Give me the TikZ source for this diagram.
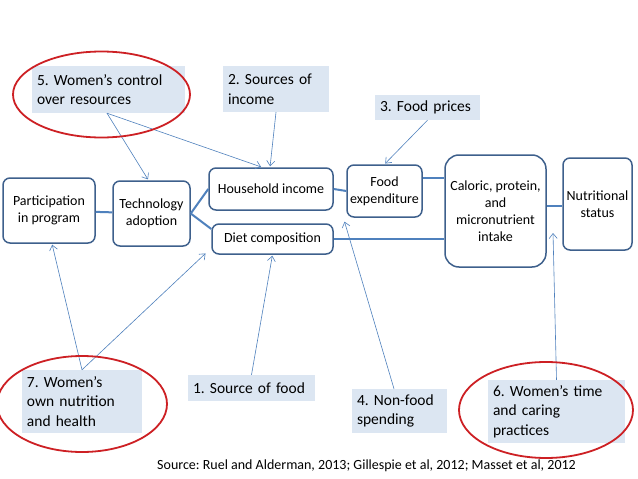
\documentclass[tikz,border=0pt]{standalone}
\usepackage{fontspec}
\setmainfont{Carlito}
\usepackage{tikz}
\usetikzlibrary{arrows.meta}
\frenchspacing

\definecolor{boxline}{RGB}{62,96,140}
\definecolor{linkblue}{RGB}{79,129,189}
\definecolor{calloutfill}{RGB}{220,230,242}
\definecolor{ringred}{RGB}{205,32,36}

\begin{document}
\begin{tikzpicture}[
    x=1pt, y=-1pt,
    >={Straight Barb[length=5pt, width=8pt]},
    stage/.style={rectangle, rounded corners=7pt, draw=boxline, line width=1.5pt, fill=white,
                  align=center, inner sep=0.5pt, font=\fontsize{14}{17}\selectfont},
    callout/.style={rectangle, fill=calloutfill, align=left, inner sep=5pt,
                    font=\fontsize{15.5}{19.5}\selectfont},
    link/.style={linkblue, line width=2pt},
    infl/.style={->, linkblue, line width=0.6pt, shorten >=1pt},
    ring/.style={ringred, line width=1.8pt}
]
\fill[white] (0,0) rectangle (638,479);
\useasboundingbox (0,0) rectangle (638,479);

% pathway boxes
\node[stage, minimum width=92pt, minimum height=65pt] (part) at (49,210.5) {Participation\\in program};
\node[stage, minimum width=77pt, minimum height=65pt] (tech) at (151.5,213.5) {Technology\\adoption};
\node[stage, minimum width=124pt, minimum height=42pt] (hinc) at (271,189) {Household income};
\node[stage, minimum width=121pt, minimum height=30pt] (diet) at (272.5,239) {Diet composition};
\node[stage, minimum width=75pt, minimum height=52pt] (fexp) at (384.5,191) {Food\\expenditure};
\node[stage, rounded corners=14pt, minimum width=101pt, minimum height=112pt] (intake) at (495.5,211)
    {Caloric, protein,\\and\\micronutrient\\intake};
\node[stage, minimum width=69pt, minimum height=92pt] (nstat) at (597.5,204) {Nutritional\\status};

\draw[link] (part) -- (tech);
\draw[link] (tech.east) -- (hinc.west);
\draw[link] (tech.east) -- ([yshift=10pt]diet.west);
\draw[link] (hinc.east) -- (fexp.west);
\draw[link] ([yshift=13pt]fexp.east) -- ([yshift=33pt]intake.west);
\draw[link] (diet.east) -- ([yshift=-28pt]intake.west);
\draw[link] ([yshift=5pt]intake.east) -- ([yshift=-2pt]nstat.west);

% entry points
\node[callout, text width=143pt, minimum height=47pt] (res) at (108.5,89.5) {5. Women's control\\over resources};
\node[callout, text width=96pt, minimum height=46pt] (inc) at (276,89) {2. Sources of\\income};
\node[callout, text width=95pt, minimum height=25pt] (price) at (427.5,107.5) {3. Food prices};
\node[callout, text width=110pt, minimum height=63pt] (health) at (82,401.5) {7. Women's\\own nutrition\\and health};
\node[callout, text width=117pt, minimum height=26pt] (src) at (251.5,388) {1. Source of food};
\node[callout, text width=85pt, minimum height=44pt] (nonfood) at (399.5,411) {4. Non-food\\spending};
\node[callout, text width=127pt, minimum height=63pt] (care) at (556.5,411.5) {6. Women's time\\and caring\\practices};

\coordinate (caretip) at (553,232);

\draw[infl] ([xshift=-1.5pt]res.south) -- ([xshift=-3pt]tech.north);
\draw[infl] ([xshift=-1.5pt]res.south) -- ([xshift=-9pt]hinc.north);
\draw[infl] (inc.south) -- ([xshift=-1pt]hinc.north);
\draw[infl] (price.south) -- (fexp.north);
\draw[infl] ([xshift=-5.5pt]nonfood.north) -- ([xshift=-2pt,yshift=-3pt]fexp.south west);
\draw[infl] (health.north) -- ([xshift=3pt]part.south);
\draw[infl] (health.north) -- ([xshift=-5pt,yshift=2pt]diet.south west);
\draw[infl] (src.north) -- (diet.south);
\draw[infl] (care.north) -- (caretip);

% highlighted entry points
\draw[ring] (101.5,94.5) ellipse [x radius=88.5pt, y radius=43pt];
\draw[ring] (82,404) ellipse [x radius=85pt, y radius=48pt];
\draw[ring] (546,410) ellipse [x radius=87pt, y radius=48pt];

\node[font=\fontsize{14}{17}\selectfont] (source) at (366.5,466)
    {Source: Ruel and Alderman, 2013; Gillespie et al, 2012; Masset et al, 2012};
\end{tikzpicture}
\end{document}
